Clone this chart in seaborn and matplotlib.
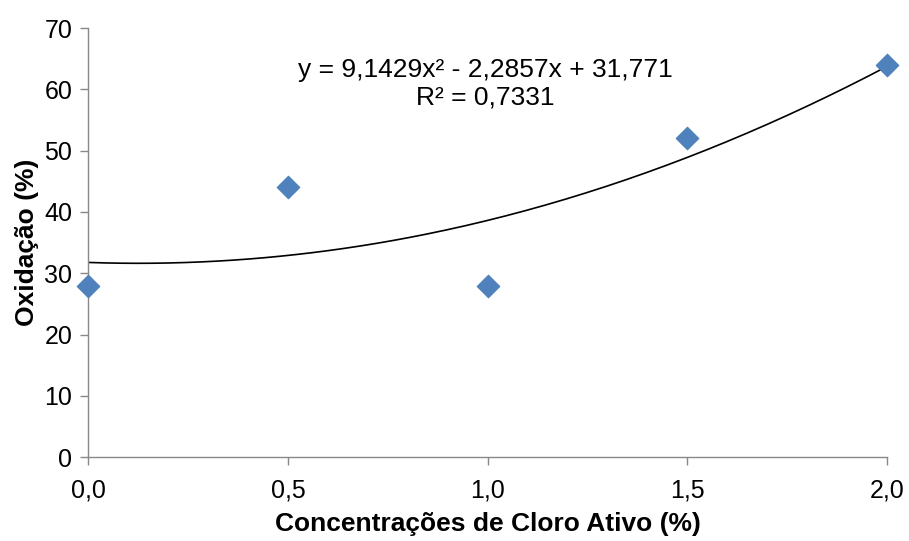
import numpy as np
import pandas as pd
import matplotlib
matplotlib.use("Agg")
import matplotlib.pyplot as plt
import seaborn as sns

# data
concentracao = [0.0, 0.5, 1.0, 1.5, 2.0]
oxidacao = [28, 44, 28, 52, 64]
# trendline coefficients from the equation label
coef = [9.1429, -2.2857, 31.771]

x_ticks = [0.0, 0.5, 1.0, 1.5, 2.0]
x_labels = ["0,0", "0,5", "1,0", "1,5", "2,0"]
y_ticks = [0, 10, 20, 30, 40, 50, 60, 70]

sns.set_theme(style="white")
plt.rcParams['font.family'] = ['Liberation Sans', 'DejaVu Sans']

df = pd.DataFrame({"x": concentracao, "y": oxidacao})

fig = plt.figure(figsize=(9.09, 5.41), dpi=100)
ax = fig.add_axes([0.097, 0.155, 0.879, 0.793])

xs = np.linspace(0, 2, 200)
ys = np.polyval(coef, xs)
ax.plot(xs, ys, color="black", lw=1.2, zorder=2)

sns.scatterplot(data=df, x="x", y="y", marker="D", s=130, color="#4F81BD",
                edgecolor="#4F81BD", ax=ax, zorder=3, clip_on=False)

ax.set_xlim(0, 2)
ax.set_ylim(0, 70)
ax.set_xticks(x_ticks)
ax.set_xticklabels(x_labels)
ax.set_yticks(y_ticks)
ax.tick_params(axis="both", labelsize=18, direction="out", length=5.5, width=1,
               color="#898989", labelcolor="black", bottom=True, left=True)
ax.tick_params(axis="x", pad=10)
ax.tick_params(axis="y", pad=6)
for s in ["top", "right"]:
    ax.spines[s].set_visible(False)
for s in ["left", "bottom"]:
    ax.spines[s].set_color("#898989")
    ax.spines[s].set_linewidth(1)

ax.set_xlabel("Concentrações de Cloro Ativo (%)", fontsize=19, fontweight="bold",
              labelpad=7, color="black")
ax.set_ylabel("Oxidação (%)", fontsize=19, fontweight="bold", labelpad=4, color="black")

ax.text(0.994, 61.0, "y = 9,1429x² - 2,2857x + 31,771\nR² = 0,7331",
        ha="center", va="center", fontsize=19, linespacing=1.18, color="black")

fig.savefig("out.png", dpi=100)
